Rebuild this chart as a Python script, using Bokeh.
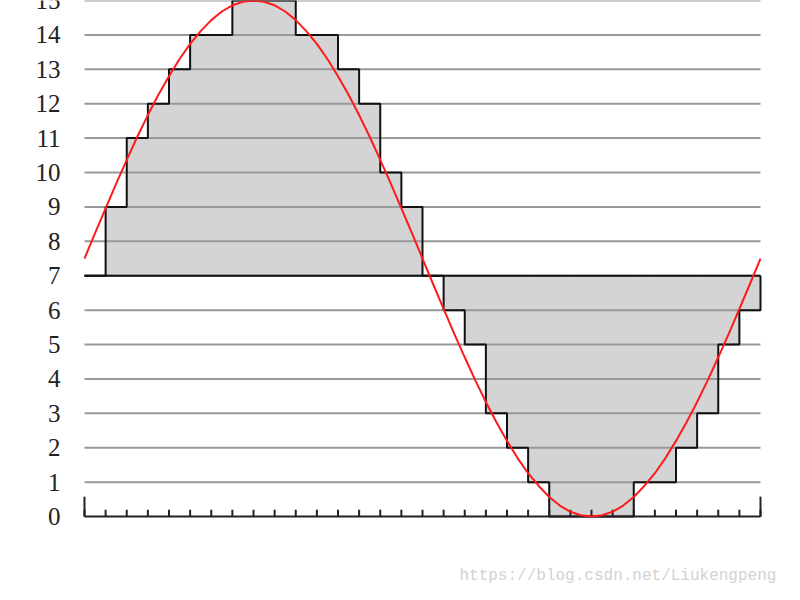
from bokeh.plotting import figure
from bokeh.models import Range1d, Label
from bokeh.core.properties import value
from bokeh.embed import file_html
from bokeh.resources import INLINE

# Quantized sample value held over each of the 32 sampling intervals
samples = [7, 9, 11, 12, 13, 14, 14, 15, 15, 15, 14, 14, 13, 12, 10, 9,
           7, 6, 5, 3, 2, 1, 0, 0, 0, 0, 1, 1, 2, 3, 5, 6]
baseline = 7

# Analog signal read at every half sampling interval (t = 0, 0.5, ..., 32)
curve_t = [i * 0.5 for i in range(65)]
curve_v = [7.50, 8.24, 8.96, 9.68, 10.37, 11.04, 11.67, 12.26, 12.80, 13.30,
           13.74, 14.11, 14.43, 14.68, 14.86, 14.96, 15.00, 14.96, 14.86, 14.68,
           14.43, 14.11, 13.74, 13.30, 12.80, 12.26, 11.67, 11.04, 10.37, 9.68,
           8.96, 8.24, 7.50, 6.76, 6.04, 5.32, 4.63, 3.96, 3.33, 2.74,
           2.20, 1.70, 1.26, 0.89, 0.57, 0.32, 0.14, 0.04, 0.00, 0.04,
           0.14, 0.32, 0.57, 0.89, 1.26, 1.70, 2.20, 2.74, 3.33, 3.96,
           4.63, 5.32, 6.04, 6.76, 7.50]

levels = list(range(0, 16))
level_labels = [str(v) for v in levels]
watermark = "https://blog.csdn.net/Liukengpeng"

n = len(samples)
edges = list(range(n + 1))

p = figure(width=784, height=584, output_backend="svg", toolbar_location=None,
           x_range=Range1d(-3.976, 33.136), y_range=Range1d(-1.974, 15.0),
           x_axis_location=None, y_axis_location=None,
           min_border_left=0, min_border_right=0, min_border_top=0,
           min_border_bottom=0)
p.outline_line_color = None
p.xgrid.visible = False
p.ygrid.visible = False
p.background_fill_color = "white"

# filled quantization area
lefts = edges[:-1]
rights = edges[1:]
bottoms = [min(baseline, v) for v in samples]
tops = [max(baseline, v) for v in samples]
p.quad(left=lefts, right=rights, bottom=bottoms, top=tops,
       fill_color="#d4d4d4", line_color="#d4d4d4", line_width=1)

# horizontal level lines
grid_levels = levels[1:]
p.segment(x0=[0] * len(grid_levels), x1=[n] * len(grid_levels),
          y0=grid_levels, y1=grid_levels, line_color="#999999", line_width=2)

# step outline + baseline
p.step(x=edges, y=samples + [baseline], mode="after", line_color="#111111",
       line_width=2)
p.segment(x0=[0], x1=[n], y0=[baseline], y1=[baseline], line_color="#111111",
          line_width=2)

# time axis: line, small ticks at every sample, taller end ticks
p.segment(x0=[0], x1=[n], y0=[levels[0]], y1=[levels[0]],
          line_color="#222222", line_width=2)
p.segment(x0=edges, x1=edges, y0=[levels[0]] * len(edges),
          y1=[0.2] * len(edges), line_color="#222222", line_width=2)
p.segment(x0=[0, n], x1=[0, n], y0=[0, 0], y1=[0.58, 0.58],
          line_color="#222222", line_width=2)

# analog signal
p.line(curve_t, curve_v, line_color="#ff1a1a", line_width=2)

# level labels
p.text(x=[edges[0]] * len(levels), y=levels, text=level_labels,
       x_offset=-24, text_align="right", text_baseline="middle",
       text_font=value("Liberation Serif"), text_font_size="25px",
       text_color="#222222")

p.add_layout(Label(x=459, y=9, x_units="screen", y_units="screen",
                   text=watermark, text_font="Liberation Mono",
                   text_font_size="16px", text_color="#d2d2d2",
                   text_baseline="alphabetic"))

open("out.html", "w").write(file_html(p, INLINE))
